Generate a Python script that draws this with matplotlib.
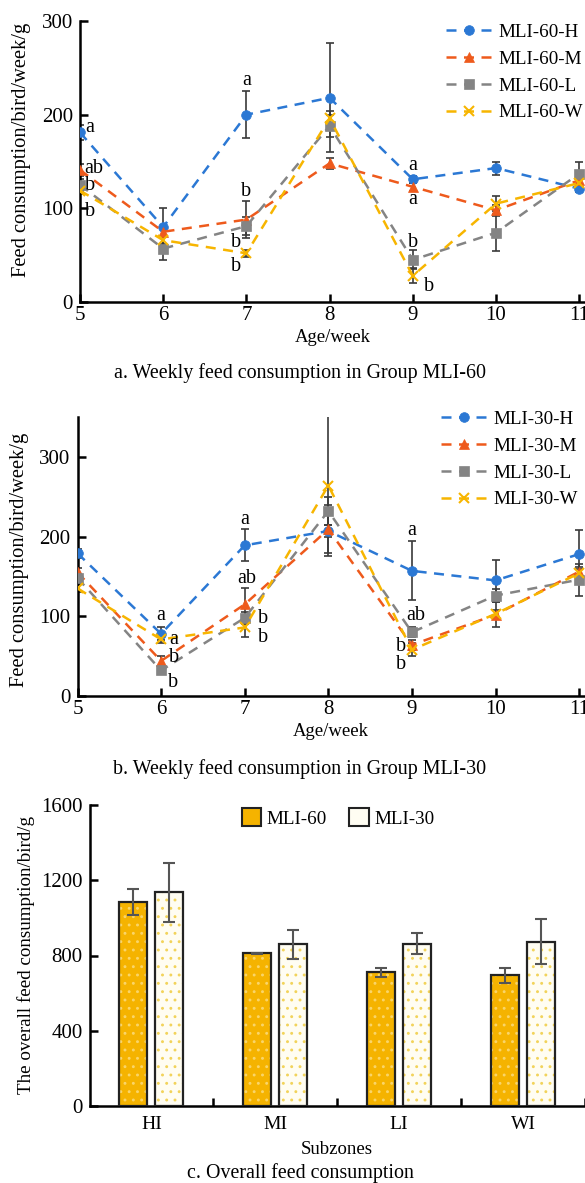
import numpy as np
import matplotlib
matplotlib.use("Agg")
import matplotlib.pyplot as plt
from matplotlib.patches import Patch

plt.rcParams['font.family'] = ['Liberation Serif', 'DejaVu Serif']
plt.rcParams['hatch.linewidth'] = 0.9

weeks = [5, 6, 7, 8, 9, 10, 11]
groups = ['H', 'M', 'L', 'W']

# panel a: MLI-60
a_mean = {
    'H': [181, 80, 200, 218, 131, 143, 121],
    'M': [141, 75, 88, 148, 123, 98, 130],
    'L': [125, 57, 81, 188, 45, 74, 137],
    'W': [119, 66, 52, 196, 28, 105, 127],
}
a_err = {
    'H': [8, 20, 25, 58, 4, 7, 4],
    'M': [6, 5, 20, 6, 4, 6, 4],
    'L': [6, 12, 10, 12, 10, 20, 12],
    'W': [4, 4, 4, 8, 8, 8, 4],
}
a_letters = [(5.12, 186, 'a'), (5.16, 143, 'ab'), (5.12, 124, 'b'), (5.12, 97, 'b'),
             (7.0, 236, 'a'), (7.0, 118, 'b'), (6.88, 64, 'b'), (6.88, 38, 'b'),
             (9.0, 146, 'a'), (9.0, 109, 'a'), (9.0, 64, 'b'), (9.2, 17, 'b')]

# panel b: MLI-30
b_mean = {
    'H': [179, 78, 189, 207, 157, 145, 178],
    'M': [155, 44, 115, 209, 64, 102, 156],
    'L': [148, 32, 98, 232, 80, 126, 146],
    'W': [135, 71, 86, 264, 58, 103, 154],
}
b_err = {
    'H': [6, 8, 20, 8, 37, 26, 30],
    'M': [5, 6, 20, 30, 6, 16, 6],
    'L': [5, 4, 8, 18, 6, 8, 20],
    'W': [5, 5, 12, 88, 8, 5, 5],
}
b_letters = [(6.0, 101, 'a'), (6.15, 71, 'a'), (6.15, 48, 'b'), (6.14, 17, 'b'),
             (7.0, 221, 'a'), (7.02, 148, 'ab'), (7.22, 97, 'b'), (7.22, 73, 'b'),
             (9.0, 207, 'a'), (9.05, 101, 'ab'), (8.87, 62, 'b'), (8.87, 40, 'b')]

# panel c: overall
zones = ['HI', 'MI', 'LI', 'WI']
c60 = [1086, 811, 710, 696]
c60_err = [70, 4, 22, 40]
c30 = [1136, 859, 863, 873]
c30_err = [157, 78, 55, 120]

colors = {'H': '#2B78D4', 'M': '#EE5A1C', 'L': '#848484', 'W': '#F7B500'}
markers = {'H': 'o', 'M': '^', 'L': 's', 'W': 'x'}

W, H = 585, 1183
fig = plt.figure(figsize=(W / 100, H / 100), dpi=100)


def px_axes(left, top, right, bottom):
    return fig.add_axes([left / W, 1 - bottom / H, (right - left) / W, (bottom - top) / H])


def style(ax):
    for s in ['top', 'right']:
        ax.spines[s].set_visible(False)
    for s in ['left', 'bottom']:
        ax.spines[s].set_linewidth(1.8)
    ax.tick_params(direction='in', length=6, width=1.8, labelsize=15)


def line_panel(ax, mean, err, letters, prefix, ymax, yticks):
    for g in groups:
        ax.errorbar(weeks, mean[g], yerr=err[g], fmt='none', ecolor='#3a3a3a',
                    elinewidth=1.2, capsize=3, capthick=1.2, zorder=2)
    for g in groups:
        ax.plot(weeks, mean[g], linestyle=(0, (4, 3)), color=colors[g], lw=1.8,
                marker=markers[g], markersize=7 if g != 'W' else 7.5,
                markeredgewidth=1.5 if g == 'W' else 0.5,
                label=prefix + g, zorder=3)
    for x, y, t in letters:
        ax.text(x, y, t, fontsize=14.5, ha='center', va='center', zorder=4)
    ax.set_xlim(5, 11.07)
    ax.set_ylim(0, ymax)
    ax.set_xticks(weeks)
    ax.set_yticks(yticks)
    style(ax)
    ax.tick_params(axis='x', pad=3)
    ax.tick_params(axis='y', pad=5)
    ax.set_xlabel('Age/week', fontsize=13.5, labelpad=3)


# panel a
axa = px_axes(80, 21, 585, 302)
line_panel(axa, a_mean, a_err, a_letters, 'MLI-60-', 300, [0, 100, 200, 300])
axa.legend(loc='upper left', bbox_to_anchor=(438 / W, 1 - 16 / H), bbox_transform=fig.transFigure,
           frameon=False, fontsize=13.7, handlelength=2.5, handletextpad=0.3, labelspacing=0.5,
           borderaxespad=0)
fig.text(22 / W, 1 - 150 / H, 'Feed consumption/bird/week/g', rotation=90, ha='center', va='center', fontsize=14.8)
fig.text(300 / W, 1 - 373 / H, 'a. Weekly feed consumption in Group MLI-60', ha='center', va='center', fontsize=14.4)

# panel b
axb = px_axes(77.5, 417, 585, 696)
line_panel(axb, b_mean, b_err, b_letters, 'MLI-30-', 350, [0, 100, 200, 300])
axb.legend(loc='upper left', bbox_to_anchor=(433 / W, 1 - 403 / H), bbox_transform=fig.transFigure,
           frameon=False, fontsize=13.7, handlelength=2.5, handletextpad=0.3, labelspacing=0.5,
           borderaxespad=0)
fig.text(20 / W, 1 - 560 / H, 'Feed consumption/bird/week/g', rotation=90, ha='center', va='center', fontsize=14.8)
fig.text(300 / W, 1 - 769 / H, 'b. Weekly feed consumption in Group MLI-30', ha='center', va='center', fontsize=14.4)

# panel c
axc = px_axes(89.5, 805, 585, 1106)
x = np.arange(len(zones))
bw, off = 0.226, 0.145
axc.bar(x - off, c60, bw, color='#F5B300', edgecolor='#FAD56A', hatch='..', linewidth=0, zorder=2)
axc.bar(x - off, c60, bw, fill=False, edgecolor='#222222', linewidth=1.6, zorder=3)
axc.bar(x + off, c30, bw, color='#FFFDF2', edgecolor='#F2D35A', hatch='..', linewidth=0, zorder=2)
axc.bar(x + off, c30, bw, fill=False, edgecolor='#222222', linewidth=1.6, zorder=3)
axc.errorbar(x - off, c60, yerr=c60_err, fmt='none', ecolor='#555555', elinewidth=1.5, capsize=4, capthick=1.5, zorder=4)
axc.errorbar(x + off, c30, yerr=c30_err, fmt='none', ecolor='#555555', elinewidth=1.5, capsize=4, capthick=1.5, zorder=4)
axc.set_xlim(-0.5, 3.5)
axc.set_ylim(0, 1600)
axc.set_yticks([0, 400, 800, 1200, 1600])
axc.set_xticks([0.5, 1.5, 2.5, 3.5])
axc.set_xticklabels([])
axc.set_xticks(x, minor=True)
axc.set_xticklabels(zones, minor=True)
style(axc)
axc.tick_params(axis='y', pad=5)
axc.tick_params(axis='x', which='minor', length=0, pad=7, labelsize=14)
axc.set_xlabel('Subzones', fontsize=13.5, labelpad=6)
handles = [Patch(facecolor='#F5B300', edgecolor='#222222', linewidth=1.5),
           Patch(facecolor='#FFFDF2', edgecolor='#222222', linewidth=1.5)]
axc.legend(handles, ['MLI-60', 'MLI-30'], loc='center', bbox_to_anchor=(338 / W, 1 - 818 / H),
           bbox_transform=fig.transFigure, ncol=2, frameon=False, fontsize=13.7,
           handlelength=1.0, handleheight=1.0, handletextpad=0.3, columnspacing=1.2)
fig.text(26 / W, 1 - 955 / H, 'The overall feed consumption/bird/g', rotation=90, ha='center', va='center', fontsize=13.7)
fig.text(300 / W, 1 - 1173 / H, 'c. Overall feed consumption', ha='center', va='center', fontsize=14.4)

fig.savefig('out.png', dpi=100)
